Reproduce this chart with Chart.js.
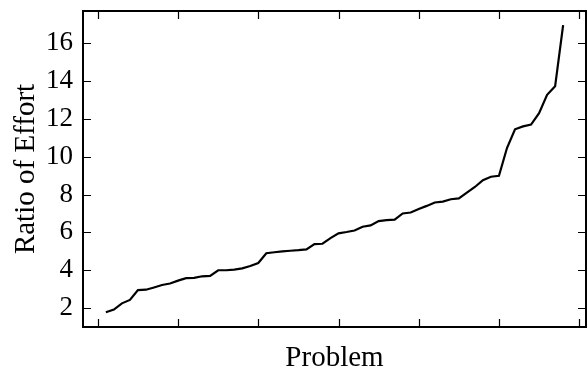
<!DOCTYPE html>
<html>
<head>
<meta charset="utf-8">
<script src="https://cdn.jsdelivr.net/npm/chart.js@4"></script>
<style>
  html, body { margin: 0; padding: 0; background: #fff; }
</style>
</head>
<body>
<canvas id="effort" width="587" height="371"></canvas>
<script>
// problems, sorted by ratio
const problems = [1, 2, 3, 4, 5, 6, 7, 8, 9, 10, 11, 12, 13, 14, 15, 16, 17, 18, 19, 20,
  21, 22, 23, 24, 25, 26, 27, 28, 29, 30, 31, 32, 33, 34, 35, 36, 37, 38, 39, 40,
  41, 42, 43, 44, 45, 46, 47, 48, 49, 50, 51, 52, 53, 54, 55, 56, 57, 58];
const ratios = [1.78, 1.92, 2.25, 2.43, 2.95, 2.97, 3.09, 3.22, 3.30, 3.45,
  3.58, 3.60, 3.68, 3.70, 4.00, 4.00, 4.03, 4.10, 4.22, 4.38,
  4.90, 4.95, 5.00, 5.03, 5.06, 5.10, 5.38, 5.40, 5.70, 5.95,
  6.02, 6.10, 6.30, 6.37, 6.60, 6.65, 6.67, 7.00, 7.05, 7.24,
  7.40, 7.58, 7.63, 7.75, 7.80, 8.10, 8.40, 8.76, 8.94, 8.99,
  10.46, 11.45, 11.60, 11.70, 12.30, 13.27, 13.72, 16.95];
const xTickValues = [0, 10, 20, 30, 40, 50, 60];
const yTickValues = [2, 4, 6, 8, 10, 12, 14, 16];

const serif = "'Liberation Serif', 'DejaVu Serif', serif";

// frame + inward ticks on all four sides (matplotlib look)
const frameTicks = {
  id: 'frameTicks',
  afterDatasetsDraw(chart) {
    const c = chart.ctx;
    const a = chart.chartArea;
    const xs = chart.scales.x, ys = chart.scales.y;
    const len = 8;
    c.save();
    c.strokeStyle = '#000';
    c.lineWidth = 1.2;
    c.beginPath();
    xs.ticks.forEach(t => {
      const px = Math.round(xs.getPixelForValue(t.value)) + 0.5;
      c.moveTo(px, a.bottom); c.lineTo(px, a.bottom - len);
      c.moveTo(px, a.top); c.lineTo(px, a.top + len);
    });
    ys.ticks.forEach(t => {
      const py = Math.round(ys.getPixelForValue(t.value)) + 0.5;
      c.moveTo(a.left, py); c.lineTo(a.left + len, py);
      c.moveTo(a.right, py); c.lineTo(a.right - len, py);
    });
    c.stroke();
    c.lineWidth = 2;
    c.strokeRect(a.left, a.top, a.right - a.left, a.bottom - a.top);
    c.restore();
  }
};

const ctx = document.getElementById('effort').getContext('2d');
const effortChart = new Chart(ctx, {
  type: 'line',
  data: {
    labels: problems,
    datasets: [{
      data: problems.map((p, i) => ({ x: p, y: ratios[i] })),
      borderColor: '#000',
      borderWidth: 2.2,
      pointRadius: 0,
      tension: 0,
      fill: false
    }]
  },
  options: {
    responsive: false,
    animation: false,
    layout: { padding: { top: 11, right: 1, left: 0, bottom: 0 } },
    plugins: { legend: { display: false }, tooltip: { enabled: false } },
    scales: {
      x: {
        type: 'linear',
        min: -1.85,
        max: 60.85,
        afterBuildTicks: s => { s.ticks = xTickValues.map(v => ({ value: v })); },
        afterFit: s => { s.height = 44; s.paddingLeft = 0; s.paddingRight = 0; },
        grid: { display: false, drawTicks: false },
        border: { display: false },
        ticks: { display: false },
        title: {
          display: true,
          text: 'Problem',
          color: '#000',
          font: { family: serif, size: 29, lineHeight: 0.8 },
          padding: { top: 0, bottom: 1 }
        }
      },
      y: {
        min: 1.0,
        max: 17.7,
        afterBuildTicks: s => { s.ticks = yTickValues.map(v => ({ value: v })); },
        afterFit: s => { s.width = 83; s.paddingTop = 0; s.paddingBottom = 0; },
        grid: { display: false, drawTicks: false },
        border: { display: false },
        ticks: {
          color: '#000',
          padding: 10,
          font: { family: serif, size: 27 }
        },
        title: {
          display: true,
          text: 'Ratio of Effort',
          color: '#000',
          font: { family: serif, size: 29, lineHeight: 0.8 },
          padding: { top: 15, bottom: 0 }
        }
      }
    }
  },
  plugins: [frameTicks]
});
</script>
</body>
</html>
